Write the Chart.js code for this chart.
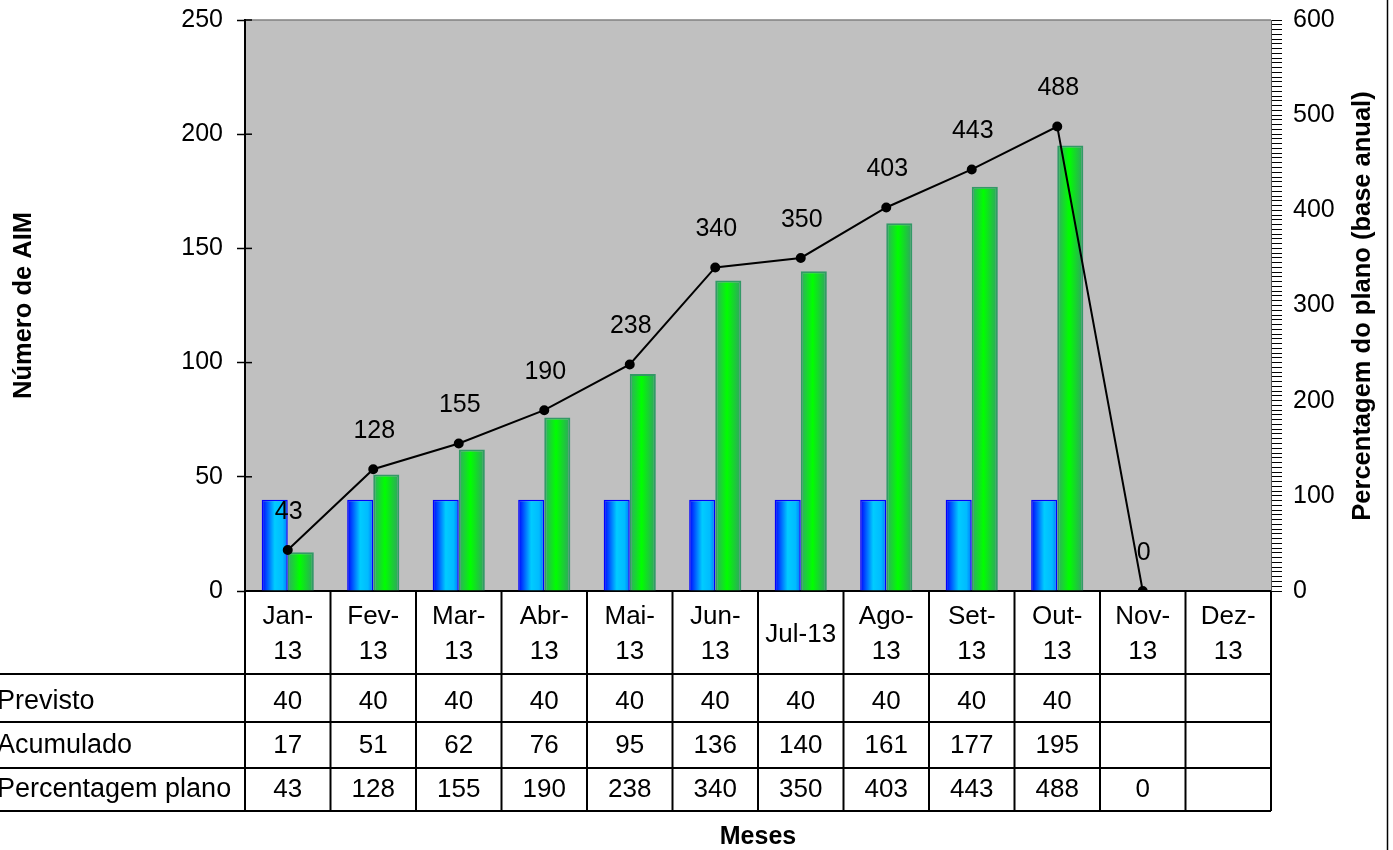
<!DOCTYPE html>
<html><head><meta charset="utf-8">
<script src="https://cdn.jsdelivr.net/npm/chart.js@4.4.0/dist/chart.umd.min.js"></script>
<style>html,body{margin:0;padding:0;background:#fff;overflow:hidden}#wrap{width:1393px;height:850px;position:relative}</style>
</head><body><div id="wrap"><canvas id="c"></canvas></div>
<script>
// ---- data ----
const categories = ['Jan-13','Fev-13','Mar-13','Abr-13','Mai-13','Jun-13','Jul-13','Ago-13','Set-13','Out-13','Nov-13','Dez-13'];
const tickLabels = [['Jan-','13'],['Fev-','13'],['Mar-','13'],['Abr-','13'],['Mai-','13'],['Jun-','13'],'Jul-13',['Ago-','13'],['Set-','13'],['Out-','13'],['Nov-','13'],['Dez-','13']];
const previsto = [40,40,40,40,40,40,40,40,40,40,null,null];
const acumulado = [17,51,62,76,95,136,140,161,177,195,null,null];
const percentagem = [43,128,155,190,238,340,350,403,443,488,0,null];
const rowLabels = ['Previsto','Acumulado','Percentagem plano'];
const leftAxisMax = 250, leftAxisStep = 50;
const rightAxisMax = 600, rightMajorStep = 100, rightMinorStep = 5;
const leftTitle = 'Número de AIM';
const rightTitle = 'Percentagem do plano (base anual)';
const xTitle = 'Meses';

const FONT = "'Liberation Sans', Arial, sans-serif";
Chart.defaults.color = '#000';
Chart.defaults.font.family = FONT;
Chart.defaults.font.size = 25;

const bgPlugin = {
  id: 'bg',
  beforeDraw(chart) {
    const {ctx, chartArea: ca} = chart;
    ctx.save();
    ctx.fillStyle = '#c0c0c0';
    ctx.fillRect(ca.left, ca.top, ca.right - ca.left, ca.bottom - ca.top);
    ctx.strokeStyle = '#808080'; ctx.lineWidth = 1.5;
    ctx.beginPath(); ctx.moveTo(ca.left, ca.top); ctx.lineTo(ca.right, ca.top); ctx.stroke();
    ctx.restore();
  }
};

const gradPlugin = {
  id: 'grad',
  beforeDatasetsDraw(chart) {
    const ctx = chart.ctx;
    chart.data.datasets.forEach((ds, di) => {
      if (!ds.gradStops) return;
      const meta = chart.getDatasetMeta(di);
      meta.data.forEach(el => {
        if (!el || el.width == null || isNaN(el.x)) return;
        const g = ctx.createLinearGradient(el.x - el.width / 2, 0, el.x + el.width / 2, 0);
        ds.gradStops.forEach(s => g.addColorStop(s[0], s[1]));
        el.options = Object.assign({}, el.options, {backgroundColor: g});
      });
    });
  }
};

const labelPlugin = {
  id: 'ptlabels',
  afterDatasetsDraw(chart) {
    const {ctx} = chart;
    chart.data.datasets.forEach((ds, di) => {
      if (ds.type !== 'line') return;
      const meta = chart.getDatasetMeta(di);
      ctx.save();
      ctx.font = '25px ' + FONT;
      ctx.fillStyle = '#000';
      ctx.textAlign = 'center';
      ctx.textBaseline = 'middle';
      meta.data.forEach((el, i) => {
        const v = ds.data[i];
        if (v === null || v === undefined) return;
        ctx.fillText(String(v), el.x + 1, el.y - 38);
      });
      ctx.restore();
    });
  }
};

const tablePlugin = {
  id: 'table',
  afterDraw(chart) {
    const {ctx, chartArea: ca, scales} = chart;
    const x = scales.x, y = scales.y;
    const n = categories.length;
    const half = (x.getPixelForValue(1) - x.getPixelForValue(0)) / 2;
    const rowLines = [ca.bottom + 83, ca.bottom + 131, ca.bottom + 177, ca.bottom + 220];
    const textY = [ca.bottom + 111, ca.bottom + 155, ca.bottom + 199];
    ctx.save();
    ctx.strokeStyle = '#000';
    ctx.lineWidth = 2;
    const line = (x1, y1, x2, y2) => { ctx.beginPath(); ctx.moveTo(x1, y1); ctx.lineTo(x2, y2); ctx.stroke(); };
    for (let i = 0; i <= n; i++) {
      const px = i < n ? x.getPixelForValue(i) - half : x.getPixelForValue(n - 1) + half;
      line(px, ca.bottom, px, rowLines[3]);
    }
    rowLines.forEach(yy => line(0, yy, ca.right, yy));
    ctx.fillStyle = '#000';
    ctx.textBaseline = 'middle';
    const rows = [previsto, acumulado, percentagem];
    rows.forEach((r, ri) => {
      ctx.textAlign = 'left';
      ctx.font = '27px ' + FONT;
      ctx.fillText(rowLabels[ri], -3, textY[ri]);
      ctx.textAlign = 'center';
      ctx.font = '26px ' + FONT;
      r.forEach((v, i) => {
        if (v === null || v === undefined) return;
        ctx.fillText(String(v), x.getPixelForValue(i), textY[ri]);
      });
    });
    // inner half of left-axis tick marks
    ctx.lineWidth = 1.5;
    for (let v = 0; v <= leftAxisMax; v += leftAxisStep) {
      const py = y.getPixelForValue(v);
      line(ca.left, py, ca.left + 7, py);
    }
    // right title (reads bottom to top)
    ctx.save();
    ctx.font = 'bold 25.5px ' + FONT;
    ctx.textAlign = 'center';
    ctx.textBaseline = 'middle';
    ctx.translate(1363, 306);
    ctx.rotate(-Math.PI / 2);
    ctx.fillText(rightTitle, 0, 0);
    ctx.restore();
    // outer border at right
    ctx.lineWidth = 1.5;
    line(1387.5, 0, 1387.5, chart.height);
    ctx.restore();
  }
};

function noPad(s) { s.paddingTop = 0; s.paddingBottom = 0; s.paddingLeft = 0; s.paddingRight = 0; }

new Chart(document.getElementById('c'), {
  type: 'bar',
  data: {
    labels: tickLabels,
    datasets: [
      {
        type: 'line', label: 'Percentagem plano', data: percentagem, yAxisID: 'y1', order: 0,
        borderColor: '#000', borderWidth: 2, pointRadius: 4, pointBackgroundColor: '#000',
        pointBorderColor: '#000', tension: 0, fill: false
      },
      {
        label: 'Previsto', data: previsto, yAxisID: 'y', order: 1,
        backgroundColor: '#00ccff', borderColor: '#0000ff', borderWidth: 1.5,
        gradStops: [[0, '#0000ff'], [0.5, '#00ccff'], [0.8, '#00bbff'], [1, '#0077ff']],
        categoryPercentage: 0.61, barPercentage: 1
      },
      {
        label: 'Acumulado', data: acumulado, yAxisID: 'y', order: 2,
        backgroundColor: '#00ff00', borderColor: '#339966', borderWidth: 2,
        gradStops: [[0, '#33aa66'], [0.45, '#00ff00'], [1, '#33a066']],
        categoryPercentage: 0.61, barPercentage: 1
      }
    ]
  },
  options: {
    responsive: true,
    maintainAspectRatio: false,
    animation: false,
    events: [],
    layout: {padding: {top: 20, left: 0, right: 0, bottom: 0}},
    plugins: {legend: {display: false}, tooltip: {enabled: false}},
    scales: {
      x: {
        position: 'bottom',
        grid: {drawOnChartArea: false, drawTicks: false},
        border: {color: '#000', width: 2},
        ticks: {font: {size: 26, lineHeight: 1.35}, padding: 26, crossAlign: 'center', maxRotation: 0, autoSkip: false},
        title: {display: true, text: xTitle, font: {size: 25, weight: 'bold'}, padding: {top: 0, bottom: -2}},
        afterFit(s) { s.height = 259; noPad(s); }
      },
      y: {
        position: 'left', min: 0, max: leftAxisMax,
        grid: {drawOnChartArea: false, tickLength: 8, tickColor: '#000', tickWidth: 1.5},
        border: {color: '#000', width: 2},
        ticks: {stepSize: leftAxisStep, padding: 14, font: {size: 25}},
        title: {display: true, text: leftTitle, font: {size: 25.5, weight: 'bold'}, padding: {top: 9, bottom: 0}},
        afterFit(s) { s.width = 245; noPad(s); }
      },
      y1: {
        position: 'right', min: 0, max: rightAxisMax,
        grid: {drawOnChartArea: false, tickLength: 11, tickColor: '#000', tickWidth: 1},
        border: {color: '#555', width: 1},
        ticks: {
          stepSize: rightMinorStep, maxTicksLimit: 1000, autoSkip: false, padding: 11, font: {size: 25},
          callback: v => (v % rightMajorStep === 0 ? String(v) : '')
        },
        afterFit(s) { s.width = 122; noPad(s); }
      }
    }
  },
  plugins: [bgPlugin, gradPlugin, labelPlugin, tablePlugin]
});
</script>
</body></html>
